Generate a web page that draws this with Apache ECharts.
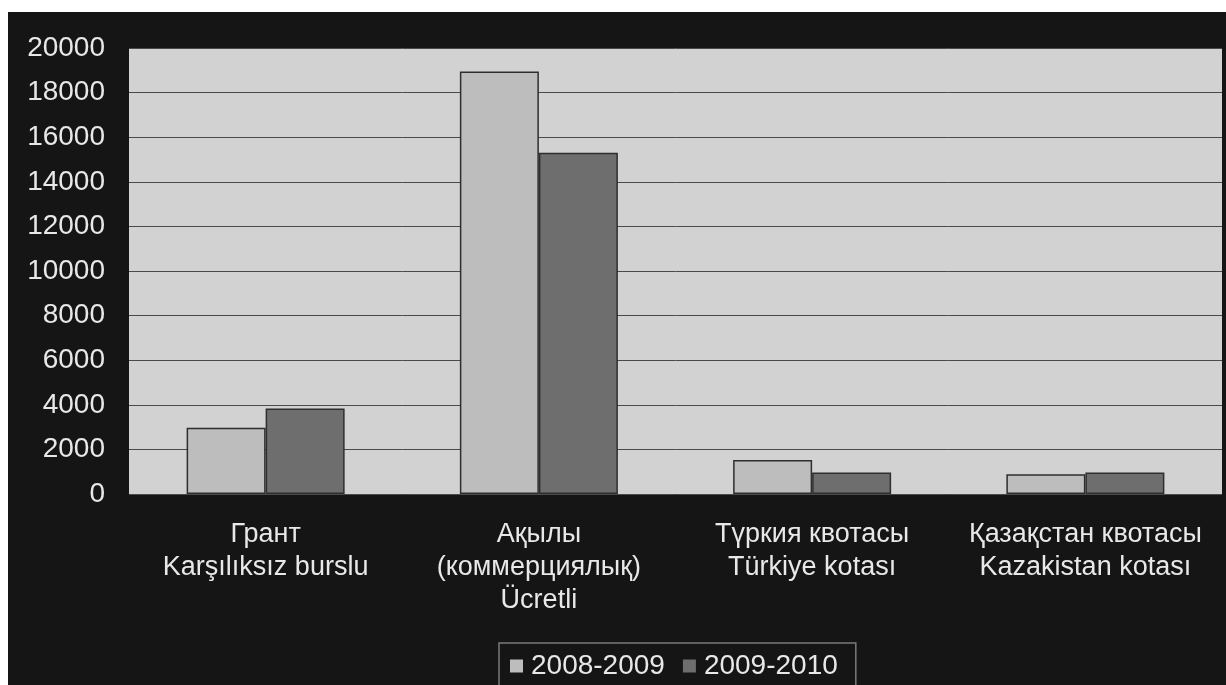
<!DOCTYPE html>
<html><head><meta charset="utf-8">
<script src="https://cdn.jsdelivr.net/npm/echarts@6/dist/echarts.min.js"></script>
<style>html,body{margin:0;padding:0;background:#fff;}#c{width:1226px;height:685px;}</style>
</head><body><div id="c"></div>
<script>
const categories = [
  "Грант\nKarşılıksız burslu",
  "Ақылы\n(коммерциялық)\nÜcretli",
  "Түркия квотасы\nTürkiye kotası",
  "Қазақстан квотасы\nKazakistan kotası"
];
const seriesNames = ["2008-2009", "2009-2010"];
const values2008 = [2970, 18950, 1530, 890];
const values2009 = [3830, 15300, 960, 960];

const chart = echarts.init(document.getElementById('c'), null, {renderer: 'canvas'});
const font = "'Liberation Sans', Arial, sans-serif";
const textColor = '#e8e8e8';
chart.setOption({
  animation: false,
  backgroundColor: '#ffffff',
  graphic: [{
    type: 'rect', z: -10, silent: true,
    shape: {x: 8, y: 12, width: 1226, height: 690},
    style: {fill: '#151515'}
  }],
  grid: {left: 129, top: 48, right: 4, bottom: 191, show: true,
         backgroundColor: '#d2d2d2', borderWidth: 0},
  legend: {
    data: seriesNames,
    left: 499, top: 643,
    padding: [8, 18, 8, 11],
    borderColor: '#7a7a7a', borderWidth: 1.5,
    backgroundColor: '#151515',
    itemWidth: 13, itemHeight: 13, itemGap: 18,
    icon: 'rect',
    itemStyle: {borderWidth: 0},
    textStyle: {color: textColor, fontSize: 28, fontFamily: font, lineHeight: 30, padding: [0,0,0,3]}
  },
  xAxis: {
    type: 'category', data: categories,
    axisLine: {show: false}, axisTick: {show: false},
    axisLabel: {color: textColor, fontSize: 27, fontFamily: font, lineHeight: 33, margin: 24, interval: 0}
  },
  yAxis: {
    type: 'value', min: 0, max: 20000, interval: 2000,
    axisLine: {show: false}, axisTick: {show: false},
    axisLabel: {color: textColor, fontSize: 28, fontFamily: font, margin: 24,
                formatter: function (v) { return String(v); }},
    splitLine: {lineStyle: {color: '#4a4a4a', width: 1}}
  },
  series: [
    {name: seriesNames[0], type: 'bar', data: values2008, barWidth: 79, barGap: '0%',
     itemStyle: {color: '#bdbdbd', borderColor: '#2e2e2e', borderWidth: 1.5}},
    {name: seriesNames[1], type: 'bar', data: values2009, barWidth: 79,
     itemStyle: {color: '#6e6e6e', borderColor: '#2e2e2e', borderWidth: 1.5}}
  ]
});
</script></body></html>
